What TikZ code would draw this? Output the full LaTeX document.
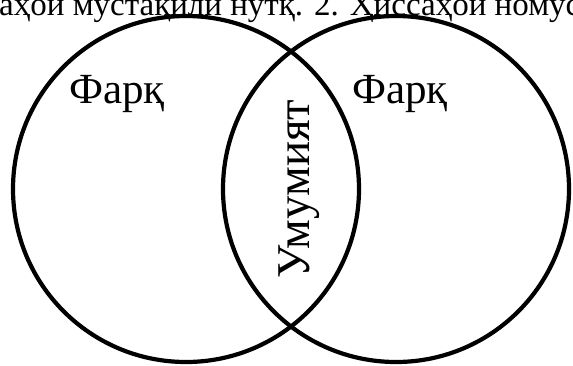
\documentclass[tikz,border=0pt]{standalone}
\usepackage{fontspec}
\setmainfont{Liberation Serif}
\usetikzlibrary{positioning}

\begin{document}
\begin{tikzpicture}[x=1pt,y=-1pt,
    ring/.style={draw=black,line width=4.2pt},
    lbl/.style={font=\fontsize{43}{46}\selectfont,inner sep=0pt},
    capline/.style={font=\fontsize{33}{36}\selectfont,inner sep=0pt,anchor=base west}]
  \useasboundingbox (0,0) rectangle (573,365);
  \clip (0,0) rectangle (573,365);
  % top line, cut off by the page edge
  \node[capline] (head) at (-1,15) {аҳои мустақили нутқ. 2. Ҳиссаҳои номустақили нутқ};
  % the two sets
  \draw[ring] (186,189) circle[radius=173];
  \draw[ring] (396,189) circle[radius=173];
  \node[lbl,anchor=base west] (diffA) at (69,103) {Фарқ};
  \node[lbl,anchor=base west] (diffB) at (352,103) {Фарқ};
  \node[lbl,font=\fontsize{47}{50}\selectfont,rotate=90,anchor=base] (common) at (309,189) {Умумият};
\end{tikzpicture}
\end{document}
